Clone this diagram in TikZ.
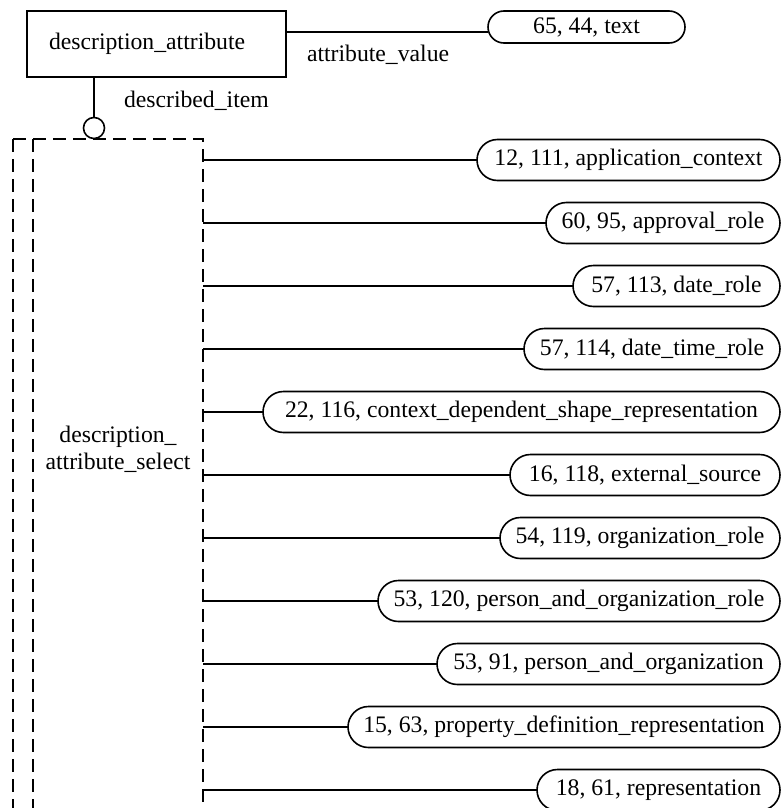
\documentclass[tikz,border=0pt]{standalone}
\usepackage{fontspec}
\setmainfont{Liberation Serif}
\usetikzlibrary{shapes.misc}
\begin{document}
\begin{tikzpicture}[x=1pt,y=-1pt,
  every node/.style={font=\fontsize{23.7}{27}\selectfont, outer sep=0pt},
  conn/.style={line width=1.6pt},
  dline/.style={line width=1.6pt, dash pattern=on 13pt off 7pt},
  entbox/.style={draw, line width=1.6pt, rectangle, anchor=north west, minimum height=66pt,
    text width=215pt, inner xsep=22pt, inner ysep=0pt, align=left},
  oval/.style={draw, line width=1.6pt, rounded rectangle, minimum height=41pt,
    minimum width=#1, inner xsep=0pt, anchor=east},
  lab/.style={inner sep=0pt, anchor=base west}
]
\useasboundingbox (0,0) rectangle (782,808);
\clip (0,0) rectangle (782,808);

% entity
\node[entbox] (da) at (27,11) {description\_attribute};
\node[oval=197pt, minimum height=32pt] (t) at (685,27) {65, 44, text};
\draw[conn] ([yshift=-21pt]da.north east) -- ([yshift=-5pt]t.west);
\node[lab] (l2) at (307,62) {attribute\_value};

% described item
\node[draw, circle, minimum size=21pt, inner sep=0pt, line width=1.6pt] (c) at (94,128) {};
\draw[conn] (c |- da.south) -- (c.north);
\node[lab] (l1) at (124,107) {described\_item};

% select box
\draw[dline] (13,139) -- (13,840);
\draw[dline] (33,139) -- (33,840);
\draw[dline] (13,139) -- (203,139) -- (203,840);
\node[align=center, inner sep=0pt] (sel) at (118,449) {description\_\\attribute\_select};

\foreach \i/\lx/\txt in {
  1/477/{12, 111, application\_context},
  2/546/{60, 95, approval\_role},
  3/573/{57, 113, date\_role},
  4/524/{57, 114, date\_time\_role},
  5/263/{22, 116, context\_dependent\_shape\_representation},
  6/510/{16, 118, external\_source},
  7/500/{54, 119, organization\_role},
  8/378/{53, 120, person\_and\_organization\_role},
  9/437/{53, 91, person\_and\_organization},
  10/348/{15, 63, property\_definition\_representation},
  11/537/{18, 61, representation}} {
  \pgfmathsetmacro{\yy}{160+63*(\i-1)}
  \pgfmathsetmacro{\ww}{780-\lx}
  \node[oval=\ww pt] (o\i) at (780,\yy) {\txt};
  \coordinate (s\i) at (203,\yy);
  \draw[conn] (s\i) -- (o\i.west);
}
\end{tikzpicture}
\end{document}
